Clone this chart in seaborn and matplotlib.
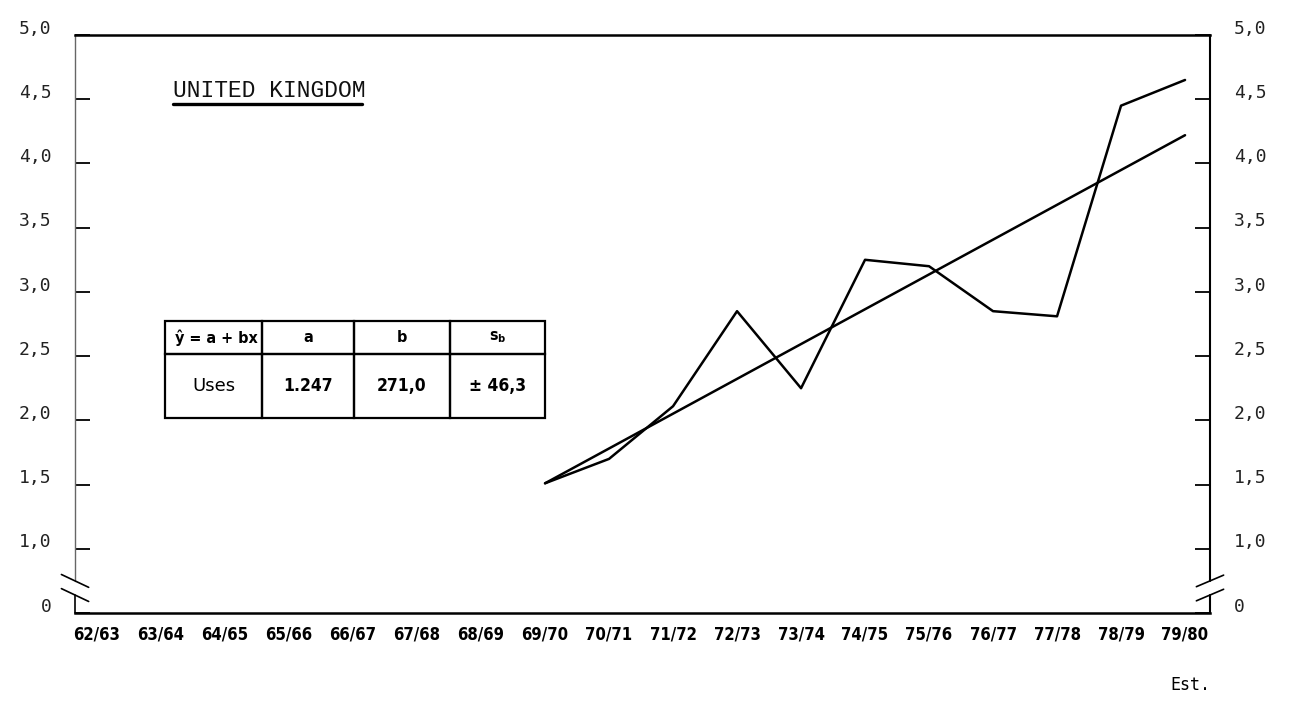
import pandas as pd
import seaborn as sns
import matplotlib.pyplot as plt
from matplotlib.table import Table
from matplotlib.transforms import ScaledTranslation, blended_transform_factory


# data
years = ["62/63", "63/64", "64/65", "65/66", "66/67", "67/68", "68/69", "69/70", "70/71",
         "71/72", "72/73", "73/74", "74/75", "75/76", "76/77", "77/78", "78/79", "79/80"]
uses_years = ["69/70", "70/71", "71/72", "72/73", "73/74", "74/75", "75/76", "76/77", "77/78", "78/79", "79/80"]
uses = [1.51, 1.70, 2.11, 2.85, 2.25, 3.25, 3.20, 2.85, 2.81, 4.45, 4.65]
trend_years = ["69/70", "79/80"]
trend = [1.51, 4.22]

# broken axis: "0" sits where 0,5 would be
y_ticks = [0.5, 1.0, 1.5, 2.0, 2.5, 3.0, 3.5, 4.0, 4.5, 5.0]
y_labels = ["0", "1,0", "1,5", "2,0", "2,5", "3,0", "3,5", "4,0", "4,5", "5,0"]

title = "UNITED KINGDOM"
table_header = ["ŷ = a + bx", "a", "b", r"s$_\mathregular{b}$"]
table_row = ["Uses", "1.247", "271,0", "± 46,3"]
note = "Est."

sns.set_style("white")
plt.rcParams["font.family"] = ["DejaVu Sans"]
plt.rcParams["text.color"] = "black"
plt.rcParams["xtick.color"] = "black"
plt.rcParams["ytick.color"] = "black"

narrow = dict(family=["DejaVu Sans"], fontstretch="condensed", fontweight="bold")
mono = ["DejaVu Sans Mono"]

fig = plt.figure(figsize=(13.05, 7.06), dpi=100)
fig.patch.set_facecolor("white")
ax = fig.add_axes([0.0575, 0.1317, 0.8697, 0.8187])

df = pd.DataFrame({"pos": [years.index(y) for y in uses_years], "value": uses})
tdf = pd.DataFrame({"pos": [years.index(y) for y in trend_years], "value": trend})
sns.lineplot(data=df, x="pos", y="value", color="black", lw=1.8, ax=ax)
sns.lineplot(data=tdf, x="pos", y="value", color="black", lw=1.8, ax=ax)

ax.set_xlim(-0.344, 17.39)
ax.set_ylim(0.5, 5.0)
ax.set_xlabel("")
ax.set_ylabel("")

ax.set_xticks(range(len(years)), years)
ax.tick_params(axis="x", length=0, pad=9)
for lab in ax.get_xticklabels():
    lab.set(**narrow)
    lab.set_fontsize(12)
    lab.set_color("black")

ax.set_yticks(y_ticks, y_labels)
ax.tick_params(axis="y", direction="in", length=11, width=1.3, left=True, right=True,
               labelleft=True, labelright=True, pad=17, labelsize=13)
up = ScaledTranslation(0, 6 / 72, fig.dpi_scale_trans)
for t in ax.yaxis.get_major_ticks():
    for lab in (t.label1, t.label2):
        lab.set_family(mono)
        lab.set_color("#222222")
        lab.set_transform(lab.get_transform() + up)

# frame: solid top / bottom, broken left / right
for side in ["left", "right"]:
    ax.spines[side].set_visible(False)
for side in ["top", "bottom"]:
    ax.spines[side].set_color("black")
    ax.spines[side].set_linewidth(1.8)

bt = blended_transform_factory(ax.transAxes, ax.transData)
ax.plot([0, 0], [0.5, 0.64], color="black", lw=1.2, transform=bt, clip_on=False)
ax.plot([0, 0], [0.75, 5.0], color="#666666", lw=1.0, transform=bt, clip_on=False)
ax.plot([1, 1], [0.5, 0.64], color="black", lw=1.5, transform=bt, clip_on=False)
ax.plot([1, 1], [0.75, 5.0], color="black", lw=1.5, transform=bt, clip_on=False)
for yb in [0.64, 0.75]:
    ax.plot([-0.012, 0.012], [yb + 0.05, yb - 0.05], color="black", lw=1.2, transform=bt, clip_on=False)
    ax.plot([0.988, 1.012], [yb - 0.045, yb + 0.045], color="black", lw=1.2, transform=bt, clip_on=False)

# title with underline
ax.text(0.0863, 0.893, title, transform=ax.transAxes, family=["Liberation Mono"],
        fontsize=16.5, va="baseline", ha="left", color="#111111")
ax.plot([0.0863, 0.2529], [0.880, 0.880], color="black", lw=2.4, transform=ax.transAxes)

# regression table
tbl = Table(ax, bbox=[0.0793, 0.337, 0.3348, 0.168])
col_w = [97, 92, 96, 95]
for c, txt in enumerate(table_header):
    cell = tbl.add_cell(0, c, width=col_w[c], height=33, text=txt,
                        loc="left" if c == 0 else "center")
    cell.set_text_props(fontsize=11.5, color="black", **narrow)
for c, txt in enumerate(table_row):
    cell = tbl.add_cell(1, c, width=col_w[c], height=65, text=txt,
                        loc="center")
    if c == 0:
        cell.set_text_props(family=["DejaVu Sans"], fontsize=13, color="black")
    else:
        cell.set_text_props(fontsize=12.5, color="black", **narrow)
tbl.auto_set_font_size(False)
for cell in tbl.get_celld().values():
    cell.set_linewidth(1.6)
    cell.set_edgecolor("black")
    cell.set_facecolor("none")
ax.add_table(tbl)

ax.text(1.0, -0.125, note, transform=ax.transAxes, family=mono, fontsize=12,
        ha="right", va="center", color="black")

fig.savefig("out.png", dpi=100, facecolor="white")
